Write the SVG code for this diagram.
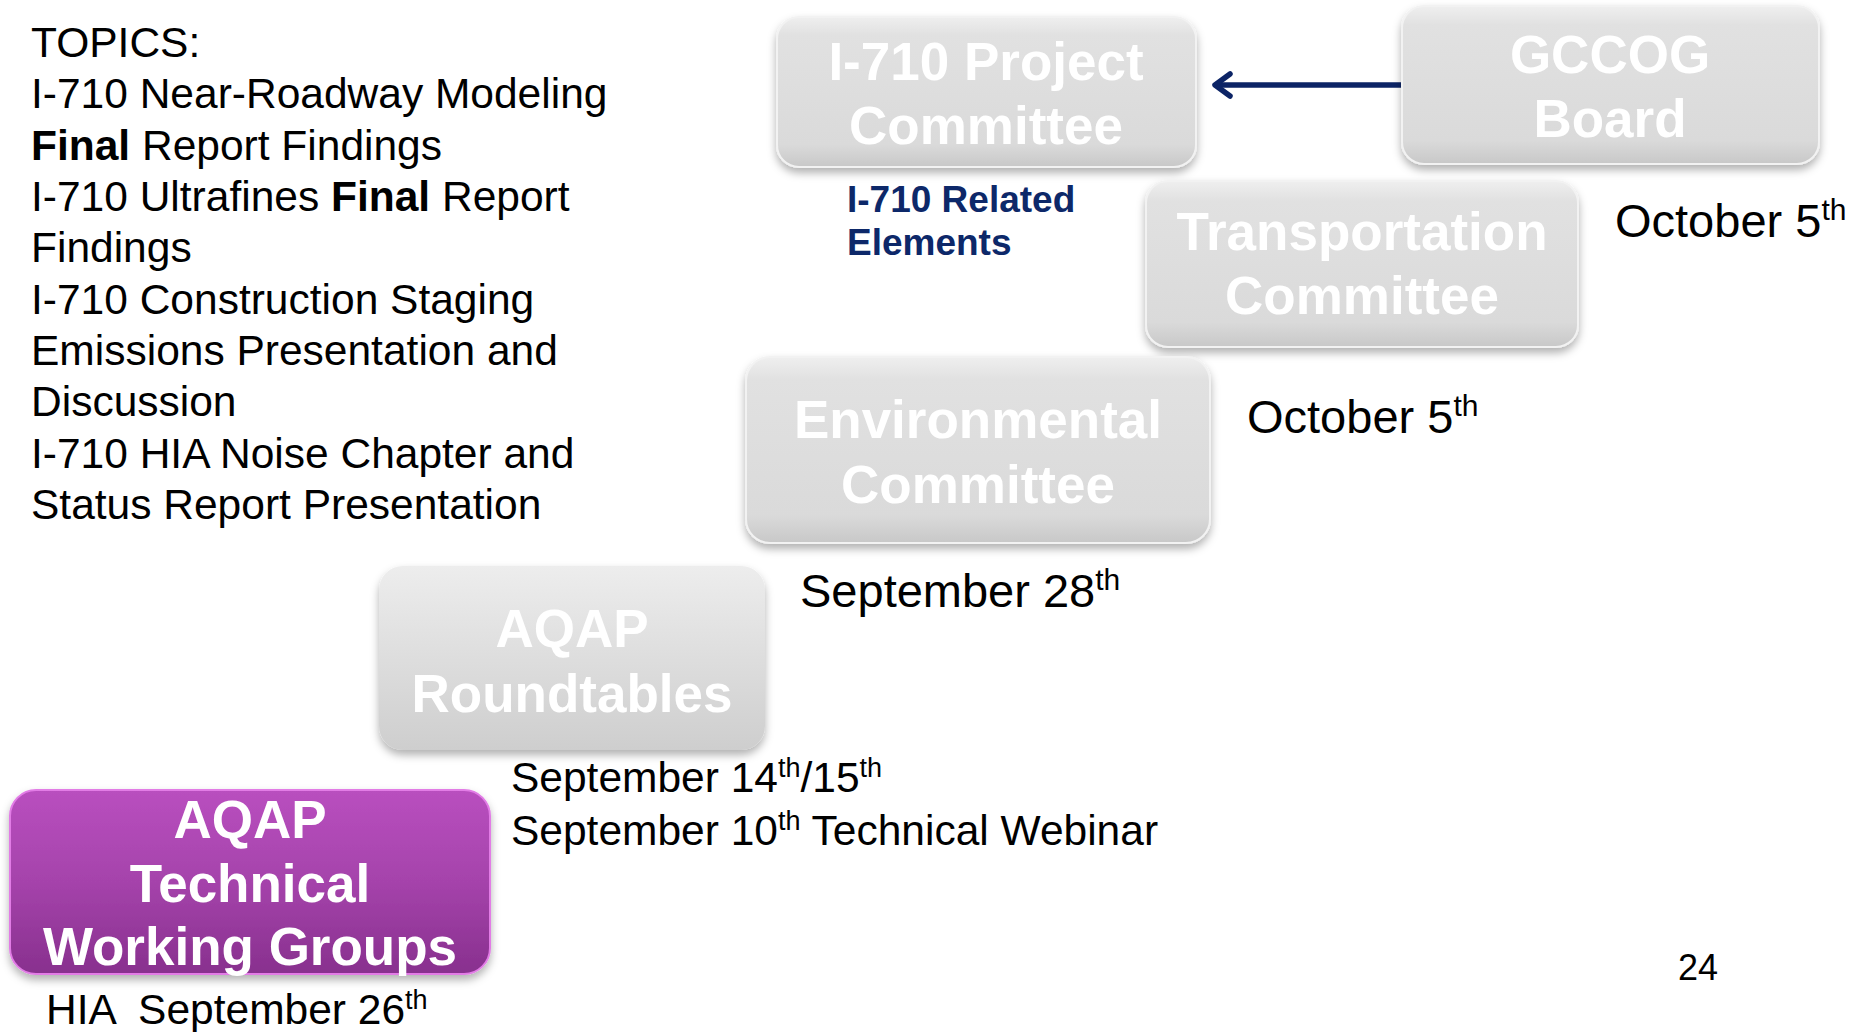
<svg xmlns="http://www.w3.org/2000/svg" width="1858" height="1032" viewBox="0 0 1858 1032">
<style>
.topic{font-family:"Liberation Sans",Arial,sans-serif;font-size:42.5px;fill:#000}
.date{font-family:"Liberation Sans",Arial,sans-serif;fill:#000}
.box{font-family:"Liberation Sans",Arial,sans-serif;font-weight:bold;font-size:53px;fill:#fff;text-anchor:middle}
.rel{font-family:"Liberation Sans",Arial,sans-serif;font-weight:bold;font-size:37px;fill:#0d2869}
.conn{fill:none;stroke:#0c2466;stroke-width:5.5;stroke-linecap:round;stroke-linejoin:round}
.gray{fill:url(#gGray);stroke:#f2f2f2;stroke-width:2;filter:url(#sh)}
</style>
<defs>
<linearGradient id="gGray" x1="0" y1="0" x2="0" y2="1">
<stop offset="0" stop-color="#efefef"/>
<stop offset="0.12" stop-color="#e1e1e1"/>
<stop offset="0.85" stop-color="#dadada"/>
<stop offset="1" stop-color="#c8c8c8"/>
</linearGradient>
<linearGradient id="gRound" x1="0" y1="0" x2="0" y2="1">
<stop offset="0" stop-color="#ededed"/>
<stop offset="1" stop-color="#cecece"/>
</linearGradient>
<linearGradient id="gPurple" x1="0" y1="0" x2="0" y2="1">
<stop offset="0" stop-color="#b94fbf"/>
<stop offset="0.5" stop-color="#a543ab"/>
<stop offset="1" stop-color="#88308e"/>
</linearGradient>
<filter id="sh" x="-10%" y="-10%" width="120%" height="130%">
<feDropShadow dx="0" dy="5" stdDeviation="4" flood-color="#000" flood-opacity="0.3"/>
</filter>
</defs>

<g id="topics">
<text class="topic" x="31" y="57">TOPICS:</text>
<text class="topic" x="31" y="108">I-710 Near-Roadway Modeling</text>
<text class="topic" x="31" y="160"><tspan font-weight="bold">Final</tspan> Report Findings</text>
<text class="topic" x="31" y="211">I-710 Ultrafines <tspan font-weight="bold">Final</tspan> Report</text>
<text class="topic" x="31" y="262">Findings</text>
<text class="topic" x="31" y="314">I-710 Construction Staging</text>
<text class="topic" x="31" y="365">Emissions Presentation and</text>
<text class="topic" x="31" y="416">Discussion</text>
<text class="topic" x="31" y="468">I-710 HIA Noise Chapter and</text>
<text class="topic" x="31" y="519">Status Report Presentation</text>
</g>

<g id="connectors">
<line class="conn" x1="1402" y1="85" x2="1217" y2="85"/>
<polyline class="conn" points="1230,74 1215,85 1230,96"/>
</g>

<g id="project-committee">
<rect class="gray" x="777" y="17" width="419" height="150" rx="22"/>
<text class="box" x="986" y="80">I-710 Project</text>
<text class="box" x="986" y="144">Committee</text>
</g>

<g id="gccog-board">
<rect class="gray" x="1402" y="6" width="417" height="158" rx="22"/>
<text class="box" x="1610" y="73">GCCOG</text>
<text class="box" x="1610" y="137">Board</text>
</g>

<g id="related-elements">
<text class="rel" x="847" y="212">I-710 Related</text>
<text class="rel" x="847" y="255">Elements</text>
</g>

<g id="transportation-committee">
<rect class="gray" x="1146" y="181" width="432" height="166" rx="22"/>
<text class="box" x="1362" y="250">Transportation</text>
<text class="box" x="1362" y="314">Committee</text>
</g>

<g id="environmental-committee">
<rect class="gray" x="746" y="357" width="464" height="186" rx="24"/>
<text class="box" x="978" y="438">Environmental</text>
<text class="box" x="978" y="503">Committee</text>
</g>

<g id="aqap-roundtables">
<rect x="379" y="566" width="386" height="184" rx="24" fill="url(#gRound)" filter="url(#sh)"/>
<text class="box" x="572" y="647">AQAP</text>
<text class="box" x="572" y="712">Roundtables</text>
</g>

<g id="aqap-twg">
<rect x="10" y="790" width="480" height="184" rx="26" fill="url(#gPurple)" stroke="#e27ce6" stroke-width="2" filter="url(#sh)"/>
<text class="box" x="250" y="838">AQAP</text>
<text class="box" x="250" y="902">Technical</text>
<text class="box" x="250" y="965">Working Groups</text>
</g>

<g id="dates">
<text class="date" x="1615" y="237" font-size="47">October 5<tspan font-size="30" dy="-17">th</tspan></text>
<text class="date" x="1247" y="433" font-size="47">October 5<tspan font-size="30" dy="-17">th</tspan></text>
<text class="date" x="800" y="607" font-size="47">September 28<tspan font-size="30" dy="-17">th</tspan></text>
<text class="date" x="511" y="792" font-size="42.5">September 14<tspan font-size="27" dy="-15">th</tspan><tspan dy="15">/15</tspan><tspan font-size="27" dy="-15">th</tspan></text>
<text class="date" x="511" y="845" font-size="42.5">September 10<tspan font-size="27" dy="-15">th</tspan><tspan dy="15"> Technical Webinar</tspan></text>
<text class="date" x="46" y="1024" font-size="42.5" xml:space="preserve">HIA  September 26<tspan font-size="27" dy="-15">th</tspan></text>
<text class="date" x="1678" y="980" font-size="36">24</text>
</g>
</svg>
